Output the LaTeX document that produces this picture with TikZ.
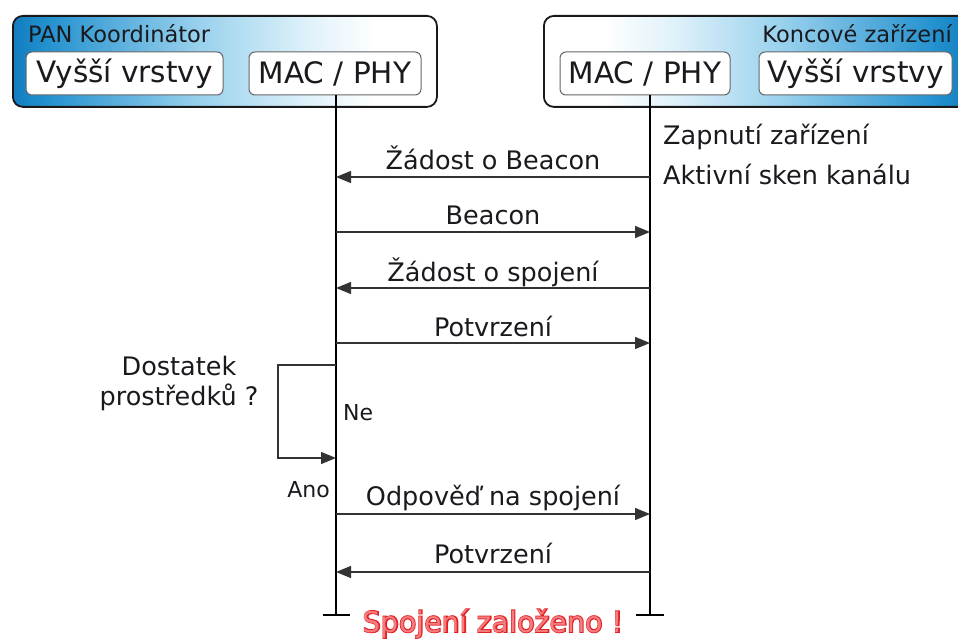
\documentclass[tikz,border=0pt]{standalone}
\usepackage{fontspec}
\setmainfont{DejaVu Sans}
\newfontfamily\outlinefont[FakeBold=6]{DejaVu Sans}
\usetikzlibrary{arrows.meta}

% header fills: deep blue fading to white (and the mirror image)
\pgfdeclarehorizontalshading{panfade}{100bp}{%
  rgb(0bp)=(0.07,0.49,0.75); rgb(25bp)=(0.07,0.49,0.75);
  rgb(29bp)=(0.14,0.57,0.81); rgb(47bp)=(0.6,0.82,0.93);
  rgb(60bp)=(0.88,0.95,0.98); rgb(68bp)=(1,1,1); rgb(100bp)=(1,1,1)}
\pgfdeclarehorizontalshading{devfade}{100bp}{%
  rgb(0bp)=(1,1,1); rgb(32bp)=(1,1,1);
  rgb(40bp)=(0.88,0.95,0.98); rgb(53bp)=(0.6,0.82,0.93);
  rgb(71bp)=(0.14,0.57,0.81); rgb(75bp)=(0.07,0.49,0.75);
  rgb(100bp)=(0.07,0.49,0.75)}

\definecolor{ink}{RGB}{25,25,30}
\definecolor{alertline}{RGB}{225,35,40}
\definecolor{alertfill}{RGB}{245,125,125}

\tikzset{
  outerbox/.style={draw=black!90, line width=1.8pt, rounded corners=10pt, inner sep=0pt},
  layerbox/.style={draw=black!60, fill=white, line width=1pt, rounded corners=6pt,
    inner sep=0pt, text=ink, font=\fontsize{29.5}{31}\selectfont},
  headtext/.style={inner sep=0pt, text=ink, font=\fontsize{22.5}{26}\selectfont},
  lifeline/.style={line width=2.2pt, draw=black},
  msg/.style={draw=black!80, line width=1.4pt, -{Triangle[length=15pt,width=12pt]}},
  msglabel/.style={anchor=base, inner sep=0pt, text=ink, font=\fontsize{25.5}{30}\selectfont},
  sidetext/.style={inner sep=0pt, text=ink, font=\fontsize{25.5}{30}\selectfont},
  smalltext/.style={inner sep=0pt, text=ink, font=\fontsize{22}{26}\selectfont},
}

\begin{document}
\begin{tikzpicture}[x=1pt,y=-1pt]
\useasboundingbox (0,0) rectangle (958,639);
\clip (0,0) rectangle (958,639);

% device headers
\node[outerbox, shading=panfade, anchor=north west,
      minimum width=424pt, minimum height=91pt] (pan) at (12,15) {};
\node[outerbox, shading=devfade, anchor=north west,
      minimum width=425pt, minimum height=91pt] (dev) at (543,15) {};

\node[headtext, anchor=base west] (panname) at (28,43) {PAN Koordinátor};
\node[headtext, anchor=base east] (devname) at (952,43) {Koncové zařízení};

\node[layerbox, minimum width=197pt, minimum height=43pt] (panhigh) at (124.5,73.5) {Vyšší vrstvy};
\node[layerbox, minimum width=172pt, minimum height=43pt] (panmac) at (335,73.5) {MAC / PHY};
\node[layerbox, minimum width=170pt, minimum height=43pt] (devmac) at (645,73.5) {MAC / PHY};
\node[layerbox, minimum width=193pt, minimum height=43pt] (devhigh) at (855.5,73.5) {Vyšší vrstvy};

% lifelines
\coordinate (pantop) at (336,95);
\coordinate (panend) at (336,615);
\coordinate (devtop) at (650,95);
\coordinate (devend) at (650,615);
\draw[lifeline] (pantop) -- (panend);
\draw[lifeline] (devtop) -- (devend);
\draw[lifeline] ([xshift=-13.5pt]panend) -- ([xshift=13.5pt]panend);
\draw[lifeline] ([xshift=-14pt]devend) -- ([xshift=14pt]devend);

% message end points
\foreach \n/\y in {1/177, 2/232, 3/288, 4/343, 5/514, 6/572} {
  \coordinate (p\n) at (336,\y);
  \coordinate (d\n) at (650,\y);
}

% messages
\draw[msg] (d1) -- (p1);
\node[msglabel] (m1) at (493,170) {Žádost o Beacon};
\draw[msg] (p2) -- (d2);
\node[msglabel] (m2) at (493,225) {Beacon};
\draw[msg] (d3) -- (p3);
\node[msglabel] (m3) at (493,281) {Žádost o spojení};
\draw[msg] (p4) -- (d4);
\node[msglabel] (m4) at (493,336) {Potvrzení};
\draw[msg] (p5) -- (d5);
\node[msglabel] (m5) at (493,505) {Odpověď na spojení};
\draw[msg] (d6) -- (p6);
\node[msglabel] (m6) at (493,563) {Potvrzení};

% device start-up notes
\node[sidetext, anchor=base west] (on) at (663,145) {Zapnutí zařízení};
\node[sidetext, anchor=base west] (scan) at (663,185) {Aktivní sken kanálu};

% resource check loop
\coordinate (loopout) at (336,365);
\coordinate (loopin) at (336,458);
\draw[msg] (loopout) -- (278,365) -- (278,458) -- (loopin);
\node[sidetext, anchor=base, align=center] (check) at (179,405)
  {Dostatek\\[-0.5pt]prostředků ?};
\node[smalltext, anchor=base west] (no) at (343,420) {Ne};
\node[smalltext, anchor=base east] (yes) at (330,497) {Ano};

% result
\node[anchor=base, inner sep=0pt, text=alertline,
      font=\outlinefont\fontsize{28.5}{30}\selectfont] (done) at (493,632) {Spojení založeno !};
\node[anchor=base, inner sep=0pt, text=alertfill,
      font=\fontsize{28.5}{30}\selectfont] (donefill) at (done.base) {Spojení založeno !};
\end{tikzpicture}
\end{document}
